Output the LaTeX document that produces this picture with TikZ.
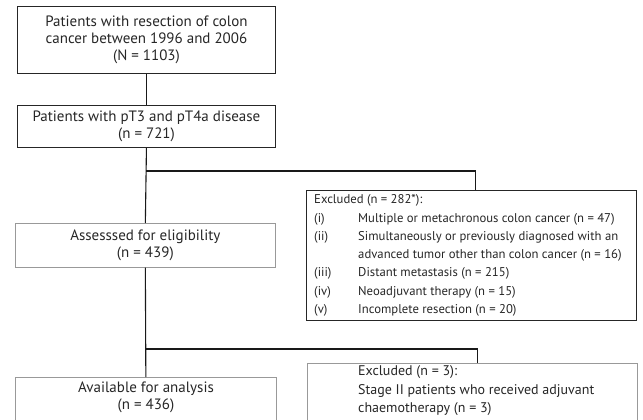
\documentclass[tikz,border=0pt]{standalone}
\usepackage{fontspec}
\setmainfont{PT Sans}
\usetikzlibrary{positioning}

\begin{document}
\begin{tikzpicture}[x=1pt,y=-1pt]
  \tikzstyle{every node}=[font=\fontsize{15}{17}\selectfont, inner sep=0pt, align=center, text=black!85]
  \tikzset{
    flowbox/.style={draw=black!85, line width=0.9pt, anchor=north west},
    paleflowbox/.style={draw=black!40, line width=0.7pt, anchor=north west},
    link/.style={draw=black!90, line width=1.1pt}
  }
  \useasboundingbox (0,0) rectangle (643,420);
  \begin{scope}
    \node[flowbox, minimum width=258pt, minimum height=67pt] (resect) at (17,6)
      {Patients with resection of colon\\cancer between 1996 and 2006\\(N = 1103)};
    \node[flowbox, minimum width=258pt, minimum height=42pt] (ptstage) at (17,105)
      {Patients with pT3 and pT4a disease\\(n = 721)};
    \node[paleflowbox, minimum width=260pt, minimum height=44pt] (assess) at (15,223)
      {Assesssed for eligibility\\(n = 439)};
    \node[paleflowbox, minimum width=261pt, minimum height=60pt] (avail) at (15,377) {};
    \node (availtxt) at (146,397) {Available for analysis\\(n = 436)};

    \node[flowbox, minimum width=330pt, minimum height=130pt] (excl) at (306,190) {};
    \node[anchor=west, font=\fontsize{12.7}{18.3}\selectfont] (excltxt) at (314,255)
      {\begin{tabular}{@{}p{44pt}@{}l@{}}
        \multicolumn{2}{@{}l@{}}{Excluded (n = 282*):}\\
        (i)   & Multiple or metachronous colon cancer (n = 47)\\
        (ii)  & Simultaneously or previously diagnosed with an\\
              & advanced tumor other than colon cancer (n = 16)\\
        (iii) & Distant metastasis (n = 215)\\
        (iv)  & Neoadjuvant therapy (n = 15)\\
        (v)   & Incomplete resection (n = 20)
      \end{tabular}};

    \node[paleflowbox, minimum width=330pt, minimum height=70pt] (stagetwo) at (307,363) {};
    \node[anchor=west, align=left, font=\fontsize{14}{18.5}\selectfont] (stagetwotxt) at (358,391)
      {Excluded (n = 3):\\Stage II patients who received adjuvant\\chaemotherapy (n = 3)};

    \coordinate (split1) at (146,171);
    \coordinate (split2) at (146,349);
    \draw[link] (resect.south) -- (ptstage.north);
    \draw[link] (ptstage.south) -- (assess.north);
    \draw[link] (assess.south) -- (avail.north);
    \draw[link] (split1) -| ([xshift=4pt]excl.north);
    \draw[link] (split2) -| ([xshift=5pt]stagetwo.north);
  \end{scope}
\end{tikzpicture}
\end{document}
